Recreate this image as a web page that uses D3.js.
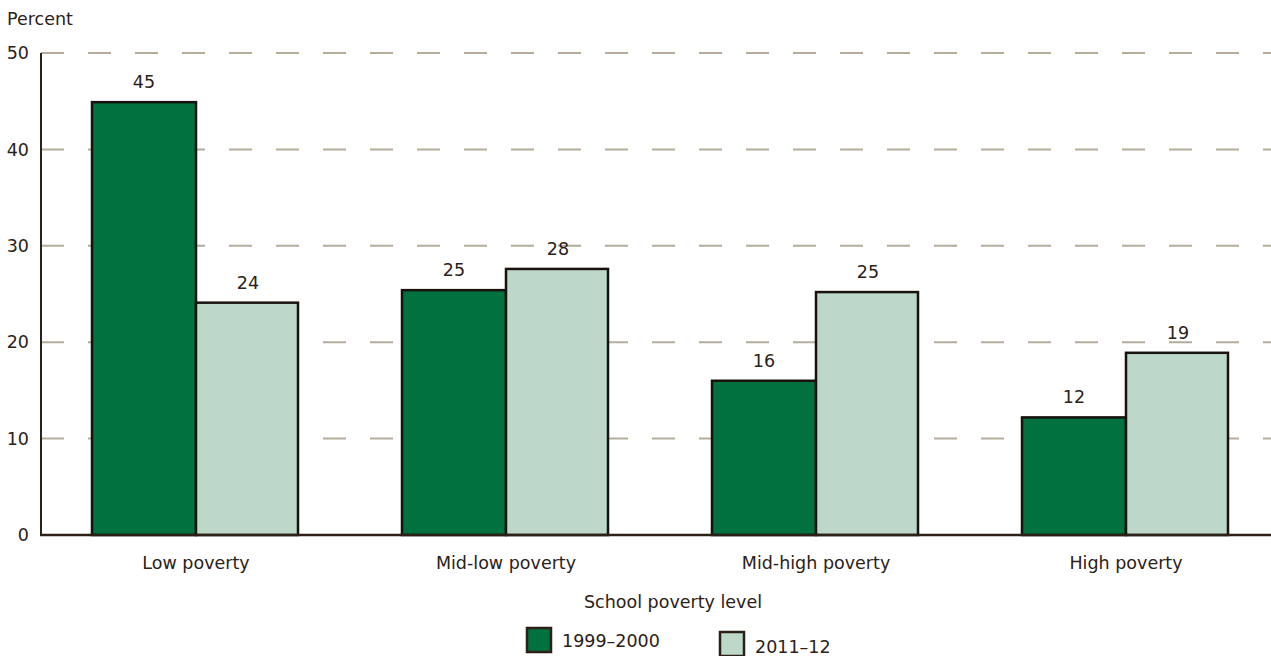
<!DOCTYPE html>
<html>
<head>
<meta charset="utf-8">
<script src="https://cdn.jsdelivr.net/npm/d3@7"></script>
<style>
  html, body { margin: 0; padding: 0; background: #fff; }
  svg { display: block; font-family: "DejaVu Sans", sans-serif; }
  svg text { font-family: "DejaVu Sans", sans-serif; }
</style>
</head>
<body>
<svg id="chart" width="1271" height="656"></svg>
<script>
// Share of teachers by school poverty level, two survey years
const categories = ["Low poverty", "Mid-low poverty", "Mid-high poverty", "High poverty"];
const seriesNames = ["1999\u20132000", "2011\u201312"];
const values1999 = [44.9, 25.4, 16.0, 12.2];
const values2011 = [24.1, 27.6, 25.2, 18.9];
const yTicks = [0, 10, 20, 30, 40, 50];

const colors = ["#01723f", "#bdd7c9"];
const ink = "#2b2116";
const fs = 17.5;

const svg = d3.select("#chart");

const x = d3.scaleBand().domain(categories).range([41, 1281]).padding(0);
const y = d3.scaleLinear().domain([0, 50]).range([535, 53]);
const barW = 104;

// dashed gridlines
svg.append("g")
  .selectAll("line")
  .data(yTicks.filter(t => t > 0))
  .join("line")
  .attr("x1", 41).attr("x2", 1271)
  .attr("y1", d => y(d)).attr("y2", d => y(d))
  .attr("stroke", "#b5ac9c")
  .attr("stroke-width", 2)
  .attr("stroke-dasharray", "23 24");

// y axis labels
const yAxis = d3.axisLeft(y).tickValues(yTicks).tickSize(0).tickPadding(12);
const gy = svg.append("g").attr("transform", "translate(41,0)").call(yAxis);
gy.select(".domain").remove();
gy.selectAll("text")
  .attr("font-size", fs)
  .attr("fill", ink);

// bars
const series = [values1999, values2011];
series.forEach((vals, si) => {
  const g = svg.append("g");
  g.selectAll("rect")
    .data(categories.map((c, i) => ({ c, v: vals[i] })))
    .join("rect")
    .attr("x", d => x(d.c) + x.bandwidth() / 2 + (si === 0 ? -barW : 0))
    .attr("y", d => y(d.v))
    .attr("width", si === 0 ? barW : barW - 2)
    .attr("height", d => y(0) - y(d.v))
    .attr("fill", colors[si])
    .attr("stroke", "#17120d")
    .attr("stroke-width", 2.5);
  g.selectAll("text")
    .data(categories.map((c, i) => ({ c, v: vals[i] })))
    .join("text")
    .attr("x", d => x(d.c) + x.bandwidth() / 2 + (si === 0 ? -barW / 2 : barW / 2))
    .attr("y", d => y(d.v) - 14)
    .attr("text-anchor", "middle")
    .attr("font-size", fs)
    .attr("fill", ink)
    .text(d => d3.format(".0f")(d.v));
});

// axis lines
svg.append("line")
  .attr("x1", 41).attr("x2", 41).attr("y1", 53).attr("y2", 536)
  .attr("stroke", ink).attr("stroke-width", 2);
svg.append("line")
  .attr("x1", 40).attr("x2", 1271).attr("y1", y(0)).attr("y2", y(0))
  .attr("stroke", ink).attr("stroke-width", 2.5);

// category labels
const xAxis = d3.axisBottom(x).tickSize(0).tickPadding(20);
const gx = svg.append("g").attr("transform", `translate(0,${y(0)})`).call(xAxis);
gx.select(".domain").remove();
gx.selectAll("text")
  .attr("font-size", fs)
  .attr("fill", ink)
  .attr("dy", null)
  .attr("y", 34);

// axis titles
svg.append("text")
  .attr("x", 7).attr("y", 25)
  .attr("font-size", fs).attr("fill", ink)
  .text("Percent");
svg.append("text")
  .attr("x", 673).attr("y", 608)
  .attr("text-anchor", "middle")
  .attr("font-size", fs).attr("fill", ink)
  .text("School poverty level");

// legend
const legend = [
  { name: seriesNames[0], color: colors[0], x: 527, y: 628, ty: 19 },
  { name: seriesNames[1], color: colors[1], x: 720, y: 632, ty: 21 }
];
const lg = svg.append("g").selectAll("g").data(legend).join("g")
  .attr("transform", d => `translate(${d.x},${d.y})`);
lg.append("rect")
  .attr("width", 24).attr("height", 24)
  .attr("fill", d => d.color)
  .attr("stroke", ink).attr("stroke-width", 2.5);
lg.append("text")
  .attr("x", 35).attr("y", d => d.ty)
  .attr("font-size", fs).attr("fill", ink)
  .text(d => d.name);
</script>
</body>
</html>
